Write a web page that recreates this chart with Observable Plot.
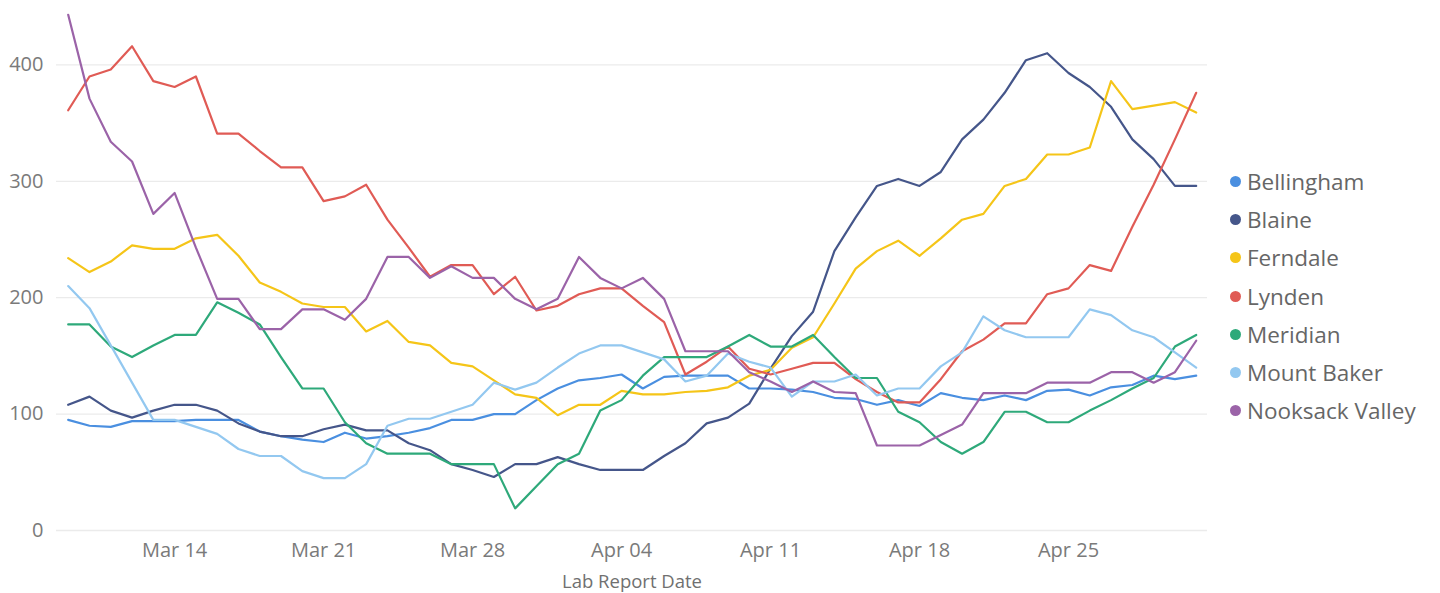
<!DOCTYPE html>
<html>
<head>
<meta charset="utf-8">
<script src="https://cdn.jsdelivr.net/npm/d3@7"></script>
<script src="https://cdn.jsdelivr.net/npm/@observablehq/plot@0.6"></script>
<style>
  html, body { margin: 0; padding: 0; background: #fff; }
  #wrap { position: relative; width: 1440px; height: 593px; overflow: hidden; }
  #chart { position: absolute; left: 0; top: 0; }
  #legend { position: absolute; left: 1230px; top: 162px; font-family: "Open Sans", sans-serif; font-size: 22.5px; color: #666; }
  #legend .row { display: flex; align-items: center; height: 38.3px; white-space: nowrap; }
  #legend .dot { width: 11px; height: 11px; border-radius: 50%; margin-right: 6px; flex: none; }
</style>
</head>
<body>
<div id="wrap"><div id="chart"></div><div id="legend"></div></div>
<script>
const startDate = "2023-03-09";
const endDate = "2023-05-02";
const regions = ["Bellingham", "Blaine", "Ferndale", "Lynden", "Meridian", "Mount Baker", "Nooksack Valley"];
const colors = ["#4a8fe0", "#45568a", "#f5c518", "#e05b55", "#2ea97a", "#93c8f0", "#9b63a8"];
const yTicks = [0, 100, 200, 300, 400];
const xTickLabels = ["2023-03-14", "2023-03-21", "2023-03-28", "2023-04-04", "2023-04-11", "2023-04-18", "2023-04-25"];

const bellingham = [95,90,89,94,94,94,95,95,95, 85,81,78,76,84,79,81,84,88, 95,95,100,100,112,122,129,131,134, 122,132,133,133,133,122,122,121,119, 114,113,108,112,107,118,114,112,116, 112,120,121,116,123,125,133,130,133];
const blaine = [108,115,103,97,103,108,108,103,92, 85,81,81,87,91,86,86,75,69, 57,52,46,57,57,63,57,52,52, 52,64,75,92,97,109,139,167,188, 240,269,296,302,296,308,336,353,376, 404,410,393,381,364,336,319,296,296];
const ferndale = [234,222,231,245,242,242,251,254,236, 213,205,195,192,192,171,180,162,159, 144,141,129,117,114,99,108,108,120, 117,117,119,120,123,133,138,157,166, 195,225,240,249,236,251,267,272,296, 302,323,323,329,386,362,365,368,359];
const lynden = [361,390,396,416,386,381,390,341,341, 326,312,312,283,287,297,267,243,218, 228,228,203,218,189,193,203,208,208, 193,179,134,145,158,139,134,139,144, 144,130,119,110,110,130,154,164,178, 178,203,208,228,223,261,297,336,376];
const meridian = [177,177,158,149,159,168,168,196,187, 177,149,122,122,93,75,66,66,66, 57,57,57,19,38,57,66,103,112, 133,149,149,149,158,168,158,158,168, 149,131,131,102,93,76,66,76,102, 102,93,93,103,112,122,131,158,168];
const mountBaker = [210,191,159,127,95,95,89,83,70, 64,64,51,45,45,57,90,96,96, 102,108,127,121,127,140,152,159,159, 153,147,128,133,152,145,140,115,128, 128,134,116,122,122,141,153,184,172, 166,166,166,190,185,172,166,153,140];
const nooksack = [443,371,334,317,272,290,243,199,199, 173,173,190,190,181,199,235,235,217, 227,217,217,199,190,199,235,217,208, 217,199,154,154,154,136,128,119,128, 119,118,73,73,73,82,91,118,118, 118,127,127,127,136,136,127,136,163];

const seriesValues = [bellingham, blaine, ferndale, lynden, meridian, mountBaker, nooksack];
const dates = d3.utcDay.range(new Date(startDate), new Date(endDate));
const rows = [];
regions.forEach((r, i) => seriesValues[i].forEach((v, j) => rows.push({region: r, date: dates[j], value: v})));

const chart = Plot.plot({
  width: 1215,
  height: 593,
  marginLeft: 56,
  marginRight: 8,
  marginTop: 5,
  marginBottom: 63,
  style: {fontFamily: "'Open Sans', sans-serif", fontSize: "20px", color: "#7a7a7a", background: "#fff"},
  x: {type: "utc", domain: [new Date(startDate), dates[dates.length - 1]], insetLeft: 11.7, insetRight: 11.3},
  y: {domain: [0, 451]},
  color: {domain: regions, range: colors},
  marks: [
    Plot.gridY(yTicks, {stroke: "#ebebeb", strokeOpacity: 1, strokeWidth: 1.3}),
    Plot.axisY({ticks: yTicks, tickSize: 0, tickPadding: 13, label: null}),
    Plot.axisX({ticks: xTickLabels.map(d => new Date(d)), tickSize: 0, tickPadding: 12, tickFormat: d3.utcFormat("%b %d"), label: null}),
    Plot.axisX({ticks: [], tickSize: 0, label: "Lab Report Date", labelAnchor: "center", labelOffset: 57, labelArrow: "none", fontSize: 18.5, fill: "#707070"}),
    Plot.lineY(rows, {x: "date", y: "value", z: "region", stroke: "region", strokeWidth: 2.2, strokeLinejoin: "round"})
  ]
});
document.getElementById("chart").appendChild(chart);

const legend = document.getElementById("legend");
regions.forEach((r, i) => {
  const row = document.createElement("div");
  row.className = "row";
  const dot = document.createElement("span");
  dot.className = "dot";
  dot.style.background = colors[i];
  const label = document.createElement("span");
  label.textContent = r;
  row.appendChild(dot);
  row.appendChild(label);
  legend.appendChild(row);
});
</script>
</body>
</html>
